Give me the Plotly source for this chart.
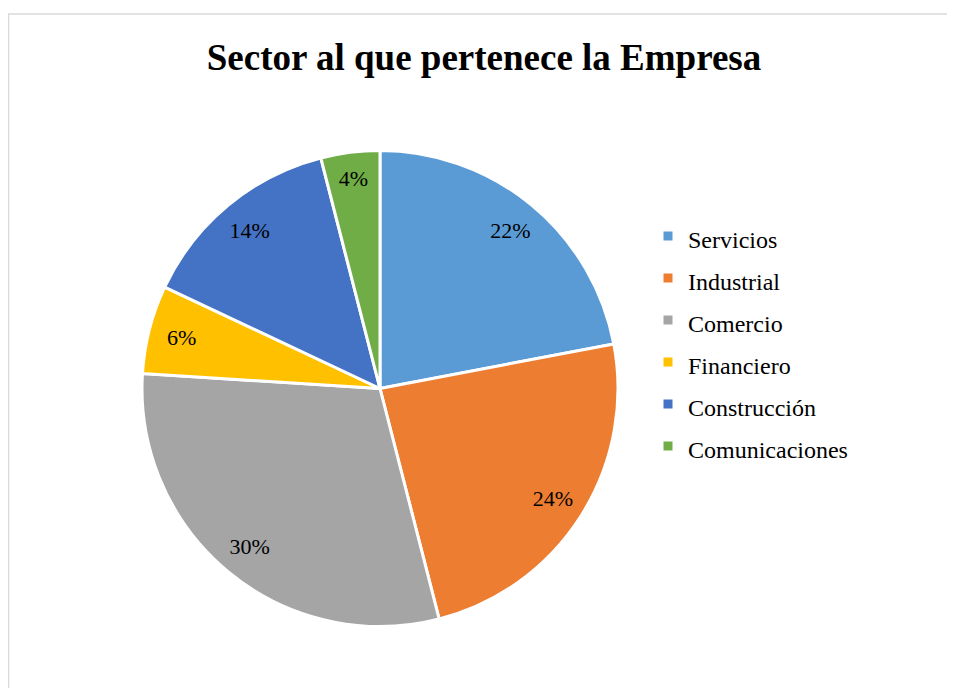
import plotly.graph_objects as go

sectores = ["Servicios", "Industrial", "Comercio", "Financiero", "Construcción", "Comunicaciones"]
porcentajes = [22, 24, 30, 6, 14, 4]
colores = ["#5B9BD5", "#ED7D31", "#A5A5A5", "#FFC000", "#4472C4", "#70AD47"]

W, H = 955, 688
fuente = "Liberation Serif, Times New Roman, serif"
dominio = dict(x=[134 / W, 610 / W], y=[1 - 619 / H, 1 - 142 / H])

# legend labels with a smaller span so rows get Excel-like spacing
etiquetas = [f"<span style='font-size:24px'>{s}</span>" for s in sectores]

fig = go.Figure()
fig.add_trace(go.Pie(
    labels=etiquetas,
    values=porcentajes,
    sort=False,
    direction="clockwise",
    rotation=0,
    marker=dict(colors=colores, line=dict(color="white", width=3)),
    textinfo="none",
    domain=dominio,
    hoverinfo="label+percent",
))
# transparent ring on top, only to push the % labels outward like Excel does
fig.add_trace(go.Pie(
    labels=etiquetas,
    values=porcentajes,
    sort=False,
    direction="clockwise",
    rotation=0,
    hole=0.72,
    marker=dict(colors=["rgba(0,0,0,0)"] * len(sectores), line=dict(width=0)),
    textinfo="percent",
    textposition="inside",
    insidetextorientation="horizontal",
    textfont=dict(family=fuente, size=22, color="black"),
    domain=dominio,
    showlegend=False,
    hoverinfo="skip",
))

fig.update_layout(
    width=W, height=H,
    margin=dict(l=0, r=0, t=0, b=0),
    paper_bgcolor="white",
    title=dict(text="<b>Sector al que pertenece la Empresa</b>",
               x=476 / W, xanchor="center", y=1 - 49 / H, yanchor="middle",
               font=dict(family=fuente, size=37, color="black")),
    legend=dict(x=640 / W, xanchor="left", y=1 - 333 / H, yanchor="middle",
                font=dict(family=fuente, size=30, color="black"),
                bgcolor="rgba(0,0,0,0)"),
    shapes=[dict(type="rect", xref="paper", yref="paper",
                 x0=0.5 / W, x1=1.02, y0=-0.02, y1=1 - 6 / H,
                 line=dict(color="#D9D9D9", width=1.5))],
)

fig.write_html("out.html")
